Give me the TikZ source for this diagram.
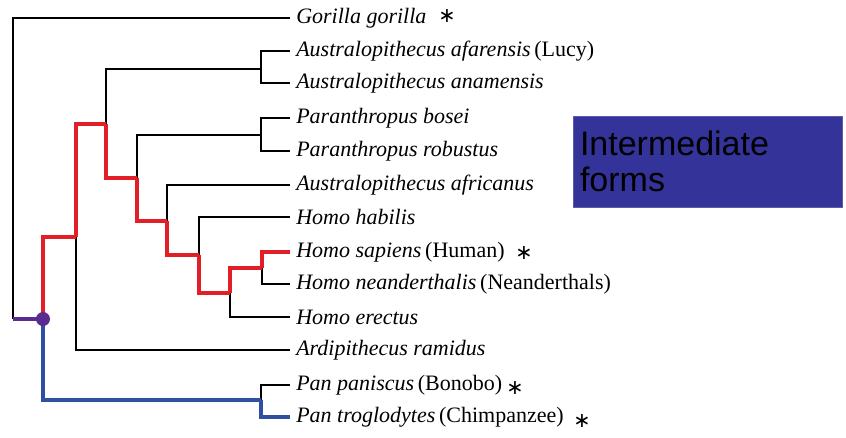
\documentclass[tikz,border=0pt]{standalone}
\usepackage{fontspec}
\setmainfont{Liberation Serif}
\setsansfont{Liberation Sans}
\newfontfamily\symfont{DejaVu Sans}
\usepackage{tikz}
\usetikzlibrary{positioning,calc}
\definecolor{HumanRed}{HTML}{E21F26}
\definecolor{PanBlue}{HTML}{2F4FA3}
\definecolor{RootPurple}{HTML}{5B2C8F}
\definecolor{BoxBlue}{HTML}{333399}

\begin{document}
\begin{tikzpicture}[
    x=0.75pt,
    y=-0.75pt,
    leaf/.style={
        anchor=west,
        inner xsep=4.5pt,
        inner ysep=0pt,
        font=\fontsize{16.5}{18}\selectfont
    },
    plain/.style={black, line width=1.1pt},
    hum/.style={HumanRed, line width=3pt},
    pan/.style={PanBlue, line width=2.6pt},
    star/.style={
        font=\symfont\fontsize{15.5}{16}\selectfont,
        inner sep=0pt
    }
]

\useasboundingbox (0,0) rectangle (846,437);

% =====================================================
% LEAVES
% =====================================================
\node[leaf] (gorilla) at (290,18)  {\itshape Gorilla gorilla};
\node[leaf] (afar)    at (290,51)  {\itshape Australopithecus afarensis\upshape\,(Lucy)};
\node[leaf] (anam)    at (290,83)  {\itshape Australopithecus anamensis};
\node[leaf] (bosei)   at (290,118) {\itshape Paranthropus bosei};
\node[leaf] (robus)   at (290,151) {\itshape Paranthropus robustus};
\node[leaf] (afric)   at (290,185) {\itshape Australopithecus africanus};
\node[leaf] (habil)   at (290,217) {\itshape Homo habilis};
\node[leaf] (sapi)    at (290,252) {\itshape Homo sapiens\upshape\,(Human)};
\node[leaf] (nean)    at (290,284) {\itshape Homo neanderthalis\upshape\,(Neanderthals)};
\node[leaf] (erec)    at (290,317) {\itshape Homo erectus};
\node[leaf] (ardi)    at (290,350) {\itshape Ardipithecus ramidus};
\node[leaf] (panis)   at (290,385) {\itshape Pan paniscus\upshape\,(Bonobo)};
\node[leaf] (trog)    at (290,417) {\itshape Pan troglodytes\upshape\,(Chimpanzee)};

% asterisks
\node[star] (s1) at (447,16)  {∗};
\node[star] (s2) at (524,253) {∗};
\node[star] (s3) at (515,388) {∗};
\node[star] (s4) at (582,421) {∗};

% =====================================================
% INNER NODES
% =====================================================
\coordinate (root) at (13,319);
\coordinate (dot)  at (43,319);
\coordinate (nA)   at (76,237);
\coordinate (nB)   at (106,124);
\coordinate (nAus) at (261,69);
\coordinate (nC)   at (137,178);
\coordinate (nPar) at (261,135);
\coordinate (nD)   at (167,221);
\coordinate (nE)   at (199,255);
\coordinate (nF)   at (230,293);
\coordinate (nG)   at (262,268);
\coordinate (nPan) at (261,400);

% =====================================================
% BLACK BRANCHES
% =====================================================
\draw[plain] (root) |- (gorilla.west);
\draw[plain] (nA) |- (ardi.west);
\draw[plain] (nB) |- (nAus);
\draw[plain] (nAus) |- (afar.west);
\draw[plain] (nAus) |- (anam.west);
\draw[plain] (nC) |- (nPar);
\draw[plain] (nPar) |- (bosei.west);
\draw[plain] (nPar) |- (robus.west);
\draw[plain] (nD) |- (afric.west);
\draw[plain] (nE) |- (habil.west);
\draw[plain] (nF) |- (erec.west);
\draw[plain] (nG) |- (nean.west);
\draw[plain] (nPan) |- (panis.west);

% =====================================================
% HUMAN LINE
% =====================================================
\draw[hum] (dot) |- (nA);
\draw[hum] (nA) |- (nB);
\draw[hum] (nB) |- (nC);
\draw[hum] (nC) |- (nD);
\draw[hum] (nD) |- (nE);
\draw[hum] (nE) |- (nF);
\draw[hum] (nF) |- (nG);
\draw[hum] (nG) |- (sapi.west);

% =====================================================
% CHIMPANZEE LINE
% =====================================================
\draw[pan] (dot) |- (nPan);
\draw[pan] (nPan) |- (trog.west);

% root
\draw[RootPurple, line width=2.6pt] (root) -- (dot);
\fill[RootPurple] (dot) circle (7);

% =====================================================
% NOTE BOX
% =====================================================
\node[
    fill=BoxBlue,
    draw=BoxBlue!80,
    minimum width=202pt,
    minimum height=68pt,
    text width=192pt,
    align=left,
    font=\sffamily\fontsize{25.5}{26.5}\selectfont
]
(box)
at (708,161.5)
{Intermediate\\forms};

\end{tikzpicture}
\end{document}
